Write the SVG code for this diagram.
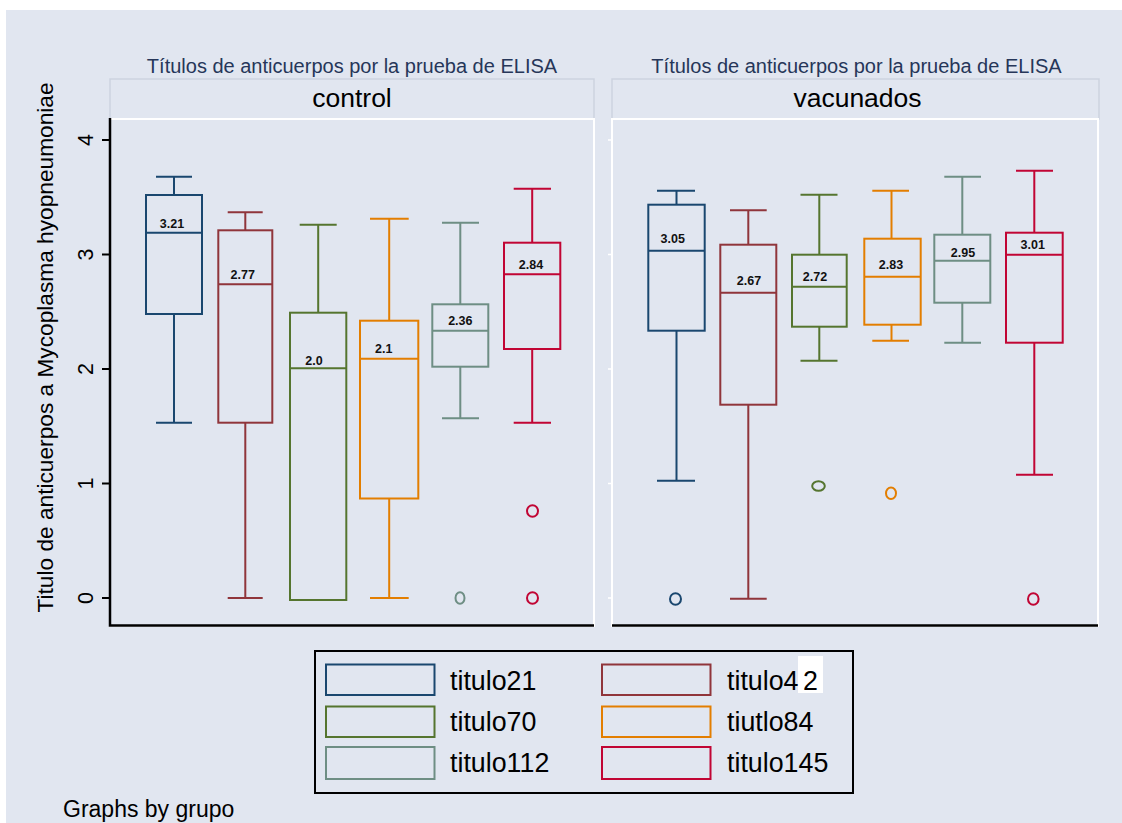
<svg xmlns="http://www.w3.org/2000/svg" width="1122" height="823" viewBox="0 0 1122 823">
<style>
  .bg{fill:#E1E6F0}
  .strip{fill:#E1E6F0;stroke:#CDD3DF;stroke-width:1.5}
  .plotframe{fill:#E1E6F0;stroke:#FFFFFF;stroke-width:2}
  .axis{stroke:#000;stroke-width:2.5;fill:none}
  .tick{stroke:#000;stroke-width:2}
  .wtick{stroke:#FFFFFF;stroke-width:1.5}
  .title{font-family:"Liberation Sans",Arial,sans-serif;font-size:20px;fill:#263659;text-anchor:middle}
  .striptxt{font-family:"Liberation Sans",Arial,sans-serif;font-size:26.5px;fill:#000;text-anchor:middle}
  .ticklab{font-family:"Liberation Sans",Arial,sans-serif;font-size:21.5px;fill:#000;text-anchor:middle}
  .ytitle{font-family:"Liberation Sans",Arial,sans-serif;font-size:22.7px;fill:#000;text-anchor:middle}
  .val{font-family:"Liberation Sans",Arial,sans-serif;font-size:12.5px;font-weight:bold;fill:#111;text-anchor:middle}
  .leg{font-family:"Liberation Sans",Arial,sans-serif;font-size:26.8px;fill:#000}
  .note{font-family:"Liberation Sans",Arial,sans-serif;font-size:23px;fill:#000}
  .bx{fill:none;stroke-width:2}
  .c1{stroke:#1A476F}
  .c2{stroke:#90353B}
  .c3{stroke:#55752F}
  .c4{stroke:#E37E00}
  .c5{stroke:#6E8E84}
  .c6{stroke:#C10534}
</style>
<rect x="6" y="10" width="1116" height="813" class="bg"/>

<g id="panel-control">
  <text class="title" x="352" y="73">Títulos de anticuerpos por la prueba de ELISA</text>
  <rect class="strip" x="110" y="79" width="484" height="40"/>
  <text class="striptxt" x="352" y="107">control</text>
  <rect class="plotframe" x="110" y="119" width="484" height="507"/>
</g>

<g id="panel-vacunados">
  <text class="title" x="856.5" y="73">Títulos de anticuerpos por la prueba de ELISA</text>
  <rect class="strip" x="612" y="79" width="487" height="40"/>
  <text class="striptxt" x="857.5" y="107">vacunados</text>
  <rect class="plotframe" x="612" y="119" width="486" height="507"/>
  <path class="wtick" d="M608 140H612M608 254.5H612M608 369H612M608 483.5H612M608 598H612"/>
</g>

<g id="axes">
  <path class="axis" d="M110 118V625.5H594"/>
  <path class="axis" d="M612 625.5H1098"/>
  <path class="tick" d="M102 140H110M102 254.5H110M102 369H110M102 483.5H110M102 598H110"/>
  <text class="ticklab" transform="translate(93,140) rotate(-90)">4</text>
  <text class="ticklab" transform="translate(93,254.5) rotate(-90)">3</text>
  <text class="ticklab" transform="translate(93,369) rotate(-90)">2</text>
  <text class="ticklab" transform="translate(93,483.5) rotate(-90)">1</text>
  <text class="ticklab" transform="translate(93,598) rotate(-90)">0</text>
  <text class="ytitle" transform="translate(53,347.5) rotate(-90)">Titulo de anticuerpos a Mycoplasma hyopneumoniae</text>
</g>

<g id="boxes-control">
  <g id="c-titulo21" class="bx c1">
    <path d="M174 195V176.7M156 176.7H192M174 314V422.7M156 422.7H192M146 232.7H202"/>
    <rect x="146" y="195" width="56" height="119"/>
  </g>
  <g id="c-titulo42" class="bx c2">
    <path d="M245.3 230.3V212.3M227.7 212.3H262.7M245.3 422.7V598M227.7 598H262.7M218.3 284.3H272.3"/>
    <rect x="218.3" y="230.3" width="54" height="192.4"/>
  </g>
  <g id="c-titulo70" class="bx c3">
    <path d="M318.2 312.7V224.7M299.7 224.7H336.7M290 368.3H346.3"/>
    <rect x="290" y="312.7" width="56.3" height="287.3"/>
  </g>
  <g id="c-tiutlo84" class="bx c4">
    <path d="M389.2 320.7V218.7M370 218.7H408.7M389.2 498.5V598M370 598H408.7M360 358.7H418.3"/>
    <rect x="360" y="320.7" width="58.3" height="177.8"/>
  </g>
  <g id="c-titulo112" class="bx c5">
    <path d="M460.3 304.3V222.7M442 222.7H479M460.3 366.7V418.3M442 418.3H479M432.3 330.7H488.3"/>
    <rect x="432.3" y="304.3" width="56" height="62.4"/>
    <ellipse cx="460" cy="598" rx="4.5" ry="5.8"/>
  </g>
  <g id="c-titulo145" class="bx c6">
    <path d="M532.2 242.7V188.7M513.7 188.7H551M532.2 349V422.7M513.7 422.7H551M504 274.3H560.3"/>
    <rect x="504" y="242.7" width="56.3" height="106.3"/>
    <ellipse cx="532.5" cy="511" rx="5.5" ry="5.8"/>
    <ellipse cx="532.5" cy="598" rx="5.5" ry="5.8"/>
  </g>
  <text class="val" x="172" y="227.5">3.21</text>
  <text class="val" x="242.7" y="279">2.77</text>
  <text class="val" x="314" y="365">2.0</text>
  <text class="val" x="383.7" y="353">2.1</text>
  <text class="val" x="460.3" y="325">2.36</text>
  <text class="val" x="531" y="269">2.84</text>
</g>

<g id="boxes-vacunados">
  <g id="v-titulo21" class="bx c1">
    <path d="M676.5 204.7V190.7M657 190.7H695M676.5 330.7V480.7M657 480.7H695M648.3 250.7H704.7"/>
    <rect x="648.3" y="204.7" width="56.4" height="126"/>
    <ellipse cx="675.5" cy="599" rx="5.5" ry="5.8"/>
  </g>
  <g id="v-titulo42" class="bx c2">
    <path d="M748.3 244.7V210.3M730 210.3H766.7M748.3 404.7V598.7M730 598.7H766.7M720.3 292.7H776.3"/>
    <rect x="720.3" y="244.7" width="56" height="160"/>
  </g>
  <g id="v-titulo70" class="bx c3">
    <path d="M819.3 254.7V194.7M800.5 194.7H837.5M819.3 326.7V360.7M800.5 360.7H837.5M792 286.7H846.7"/>
    <rect x="792" y="254.7" width="54.7" height="72"/>
    <ellipse cx="818.5" cy="486" rx="6.3" ry="4.8"/>
  </g>
  <g id="v-tiutlo84" class="bx c4">
    <path d="M891.5 238.7V190.7M872.3 190.7H909M891.5 324.7V340.7M872.3 340.7H909M864.3 276.7H920.7"/>
    <rect x="864.3" y="238.7" width="56.4" height="86"/>
    <ellipse cx="891" cy="493.3" rx="5" ry="5.8"/>
  </g>
  <g id="v-titulo112" class="bx c5">
    <path d="M962.3 234.7V176.7M944.3 176.7H981M962.3 302.7V342.7M944.3 342.7H981M934.3 260.7H990.3"/>
    <rect x="934.3" y="234.7" width="56" height="68"/>
  </g>
  <g id="v-titulo145" class="bx c6">
    <path d="M1034.3 232.7V170.7M1016 170.7H1053M1034.3 342.7V474.7M1016 474.7H1053M1006 254.7H1062.7"/>
    <rect x="1006" y="232.7" width="56.7" height="110"/>
    <ellipse cx="1033.3" cy="599" rx="5.3" ry="5.8"/>
  </g>
  <text class="val" x="672.7" y="243">3.05</text>
  <text class="val" x="749" y="285">2.67</text>
  <text class="val" x="815" y="281">2.72</text>
  <text class="val" x="891" y="269">2.83</text>
  <text class="val" x="963" y="257">2.95</text>
  <text class="val" x="1032.7" y="249">3.01</text>
</g>

<g id="legend">
  <rect x="315" y="651" width="538" height="142" fill="none" stroke="#000" stroke-width="2"/>
  <rect class="bx c1" x="326" y="664.5" width="108.5" height="30.5"/>
  <rect class="bx c2" x="602" y="664.5" width="108.5" height="30.5"/>
  <rect class="bx c3" x="326" y="706.5" width="108.5" height="30.5"/>
  <rect class="bx c4" x="602" y="706.5" width="108.5" height="30.5"/>
  <rect class="bx c5" x="326" y="747" width="108.5" height="32"/>
  <rect class="bx c6" x="602" y="747" width="108.5" height="32"/>
  <text class="leg" x="450" y="689.5">titulo21</text>
  <rect x="798" y="656" width="25" height="37" fill="#FFFFFF"/>
  <text class="leg" x="727" y="689.5">titulo4<tspan x="803">2</tspan></text>
  <text class="leg" x="450" y="730.5">titulo70</text>
  <text class="leg" x="727" y="730.5">tiutlo84</text>
  <text class="leg" x="450" y="771.5">titulo112</text>
  <text class="leg" x="727" y="771.5">titulo145</text>
</g>

<text class="note" x="63" y="817">Graphs by grupo</text>
</svg>
